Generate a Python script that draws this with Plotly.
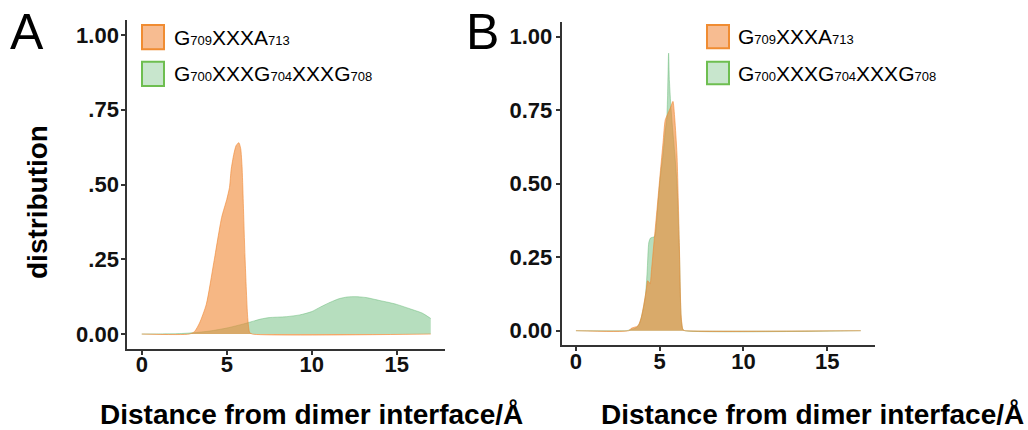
import plotly.graph_objects as go

# ---------------- data ----------------
# Panel A
a_orange_x = [0, 2.8, 3.1, 3.4, 3.8, 4.24, 4.7, 5.0, 5.16, 5.26, 5.41, 5.55, 5.71, 5.82, 5.9, 5.94, 6.08, 6.24, 6.35, 6.5, 17]
a_orange_y = [0, 0, 0.008, 0.037, 0.10, 0.24, 0.39, 0.45, 0.49, 0.55, 0.60, 0.63, 0.64, 0.62, 0.56, 0.50, 0.25, 0.05, 0.005, 0, 0]

a_green_x = [0, 1, 2, 3, 4, 5, 6, 6.5, 7, 7.5, 8.5, 9.3, 10, 10.5, 11, 11.6, 12.1, 12.6, 13.2, 14, 14.5, 15, 15.9, 16.5, 17]
a_green_y = [0, 0.0005, 0.001, 0.004, 0.01, 0.02, 0.034, 0.042, 0.05, 0.055, 0.058, 0.064, 0.075, 0.09, 0.104, 0.118,
             0.124, 0.125, 0.122, 0.112, 0.106, 0.099, 0.082, 0.07, 0.052]

# Panel B
b_orange_x = [0, 3.15, 3.3, 3.5, 3.65, 3.74, 3.9, 4.04, 4.2, 4.28, 4.36, 4.43, 4.5, 4.67, 4.85, 5.03, 5.2, 5.33,
              5.5, 5.65, 5.79, 5.9, 6.03, 6.17, 6.28, 6.39, 6.5, 17]
b_orange_y = [0, 0, 0.008, 0.012, 0.014, 0.02, 0.045, 0.085, 0.14, 0.17, 0.165, 0.16, 0.2, 0.308, 0.42, 0.535, 0.64,
              0.717, 0.74, 0.76, 0.78, 0.72, 0.6, 0.3, 0.05, 0.003, 0, 0]

b_green_x = [0, 3.0, 3.3, 3.6, 3.8, 4.0, 4.15, 4.25, 4.35, 4.45, 4.6, 4.7, 4.85, 5.03, 5.2, 5.33, 5.42, 5.47, 5.53,
             5.58, 5.67, 5.75, 5.9, 6.03, 6.17, 6.28, 6.38, 6.5, 17]
b_green_y = [0, 0, 0.004, 0.01, 0.025, 0.07, 0.12, 0.2, 0.3, 0.315, 0.318, 0.32, 0.40, 0.52, 0.6, 0.68, 0.72, 0.8,
             0.944, 0.85, 0.76, 0.7, 0.6, 0.5, 0.28, 0.04, 0.005, 0, 0]

series_names = ["G<span style='font-size:13px'>709</span>XXXA<span style='font-size:13px'>713</span>",
                "G<span style='font-size:13px'>700</span>XXXG<span style='font-size:13px'>704</span>XXXG<span style='font-size:13px'>708</span>"]

x_ticks = [0, 5, 10, 15]
y_ticks = [0, 0.25, 0.5, 0.75, 1.0]
a_y_ticktext = ["0.00", ".25", ".50", ".75", "1.00"]
b_y_ticktext = ["0.00", "0.25", "0.50", "0.75", "1.00"]

# ---------------- style ----------------
W, H = 1028, 430
ORANGE_FILL = "rgba(240,135,50,0.6)"
ORANGE_LINE = "rgba(240,135,50,0.6)"
GREEN_FILL = "rgba(110,190,125,0.5)"
GREEN_LINE = "rgba(110,190,125,0.5)"
AXIS_COLOR = "#333333"
FONT = "Liberation Sans, Arial, sans-serif"


def px_x(p):
    return p / W


def px_y(p):
    return 1 - p / H


fig = go.Figure()

for xs, ys, fc, lc, xa, ya in [
    (a_green_x, a_green_y, GREEN_FILL, GREEN_LINE, "x", "y"),
    (a_orange_x, a_orange_y, ORANGE_FILL, ORANGE_LINE, "x", "y"),
    (b_green_x, b_green_y, GREEN_FILL, GREEN_LINE, "x2", "y2"),
    (b_orange_x, b_orange_y, ORANGE_FILL, ORANGE_LINE, "x2", "y2"),
]:
    fig.add_trace(go.Scatter(x=xs, y=ys, mode="lines", fill="tozeroy", fillcolor=fc,
                             line=dict(color=lc, width=1, shape="spline", smoothing=0.6),
                             xaxis=xa, yaxis=ya, showlegend=False, hoverinfo="skip"))

axis_common = dict(showline=True, linecolor=AXIS_COLOR, linewidth=2, ticks="outside", ticklen=4,
                   tickwidth=1.5, tickcolor=AXIS_COLOR, showgrid=False, zeroline=False,
                   tickfont=dict(family=FONT, size=22, color="#111111", weight="bold"), mirror=False)

fig.update_layout(
    width=W, height=H, autosize=False,
    margin=dict(l=0, r=0, t=0, b=0),
    paper_bgcolor="white", plot_bgcolor="white",
    xaxis=dict(domain=[px_x(127.3), px_x(445.2)], range=[-0.85, 17.85], anchor="y",
               tickvals=x_ticks, ticktext=[str(v) for v in x_ticks], ticklabelstandoff=-9, **axis_common),
    yaxis=dict(domain=[px_y(349), px_y(20)], range=[-0.05, 1.05], anchor="x",
               tickvals=y_ticks, ticktext=a_y_ticktext, ticklabelstandoff=-2, **axis_common),
    xaxis2=dict(domain=[px_x(561.7), px_x(875)], range=[-0.85, 17.85], anchor="y2",
                tickvals=x_ticks, ticktext=[str(v) for v in x_ticks], ticklabelstandoff=-9, **axis_common),
    yaxis2=dict(domain=[px_y(345.4), px_y(22)], range=[-0.05, 1.05], anchor="x2",
                tickvals=y_ticks, ticktext=b_y_ticktext, ticklabelstandoff=-1, **axis_common),
)

# panel letters
fig.add_annotation(text="A", x=px_x(8), y=px_y(32), xref="paper", yref="paper", xanchor="left", yanchor="middle",
                   showarrow=False, font=dict(family=FONT, size=50, color="black"))
fig.add_annotation(text="B", x=px_x(464), y=px_y(32), xref="paper", yref="paper", xanchor="left", yanchor="middle",
                   showarrow=False, font=dict(family=FONT, size=50, color="black"))

# axis titles
title_font = dict(family=FONT, size=28, color="black", weight="bold")
for cx in [311, 812]:
    fig.add_annotation(text="Distance from dimer interface/Å", x=px_x(cx), y=px_y(414), xref="paper", yref="paper",
                       xanchor="center", yanchor="middle", showarrow=False, font=title_font)
fig.add_annotation(text="distribution", x=px_x(37), y=px_y(202), xref="paper", yref="paper", textangle=-90,
                   xanchor="center", yanchor="middle", showarrow=False, font=title_font)

# legends (keys + labels)
legend_specs = [
    (142, [(25, 49.3), (61.7, 86)], 171.7),
    (707, [(25, 48.3), (61.7, 84.3)], 736),
]
key_styles = [("rgba(247,188,145,1)", "rgb(240,140,50)"), ("rgba(200,230,205,1)", "rgb(110,190,80)")]
for x0, rows, tx in legend_specs:
    for (y0, y1), (fillc, linec), name in zip(rows, key_styles, series_names):
        fig.add_shape(type="rect", xref="paper", yref="paper", x0=px_x(x0), x1=px_x(x0 + 22),
                      y0=px_y(y1), y1=px_y(y0), fillcolor=fillc, line=dict(color=linec, width=2))
        fig.add_annotation(text=name, x=px_x(tx), y=px_y((y0 + y1) / 2), xref="paper", yref="paper",
                           xanchor="left", yanchor="middle", showarrow=False,
                           font=dict(family=FONT, size=21, color="black"))

fig.write_html("out.html")
